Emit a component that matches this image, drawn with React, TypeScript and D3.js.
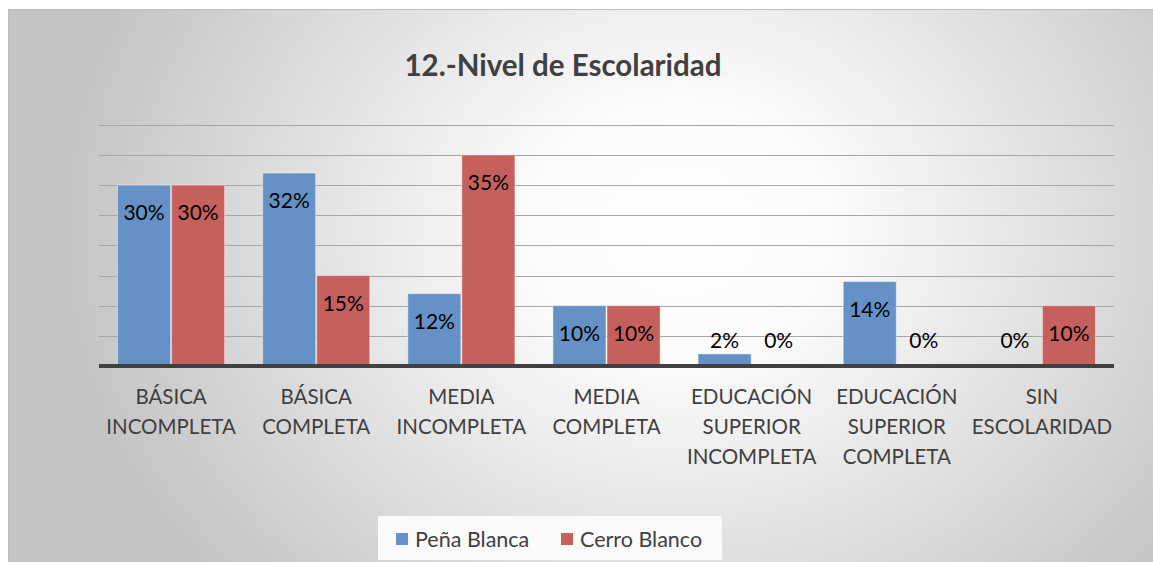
import React from "react";
import * as d3 from "d3";

const categories = [
  ["BÁSICA", "INCOMPLETA"],
  ["BÁSICA", "COMPLETA"],
  ["MEDIA", "INCOMPLETA"],
  ["MEDIA", "COMPLETA"],
  ["EDUCACIÓN", "SUPERIOR", "INCOMPLETA"],
  ["EDUCACIÓN", "SUPERIOR", "COMPLETA"],
  ["SIN", "ESCOLARIDAD"],
];
const penaBlanca = [30, 32, 12, 10, 2, 14, 0];
const cerroBlanco = [30, 15, 35, 10, 0, 0, 10];
const seriesNames = ["Peña Blanca", "Cerro Blanco"];
const gridTicks = [0, 5, 10, 15, 20, 25, 30, 35, 40];
const title = "12.-Nivel de Escolaridad";

const W = 1153;
const H = 562;
const FONT = "Lato, 'Open Sans', sans-serif";
const colors = ["#6591c7", "#c6605d"];

export default function App() {
  const left = 99, right = 1114, baseline = 366;
  const x = d3.scaleBand<number>().domain(d3.range(categories.length)).range([left, right]).paddingInner(0.255).paddingOuter(0.124);
  const x1 = d3.scaleBand<number>().domain([0, 1]).range([0, x.bandwidth()]).padding(0);
  const y = d3.scaleLinear().domain([0, 40]).range([baseline, baseline - 241.2]);
  const series = [penaBlanca, cerroBlanco];

  return (
    <svg width={W} height={H} style={{ position: "absolute", left: 0, top: 0 }} fontFamily={FONT}>
      <defs>
        <radialGradient id="bg" gradientUnits="userSpaceOnUse" cx={680} cy={230} r={620}
          gradientTransform="translate(680,230) scale(1,0.85) translate(-680,-230)">
          <stop offset="0" stopColor="#ffffff" />
          <stop offset="0.25" stopColor="#fbfbfb" />
          <stop offset="1" stopColor="#c4c4c4" />
        </radialGradient>
      </defs>
      <rect x={0} y={0} width={W} height={H} fill="#ffffff" />
      <rect x={8} y={9} width={W - 8} height={H - 9} fill="url(#bg)" />
      <line x1={8} x2={W} y1={9.5} y2={9.5} stroke="#bdbdbd" />
      <line x1={8.5} x2={8.5} y1={9} y2={H} stroke="#bdbdbd" />
      <text x={563} y={76} textAnchor="middle" fontSize={29.5} fontWeight="bold" fill="#404040">{title}</text>
      {gridTicks.filter(t => t > 0).map(t => (
        <line key={t} x1={left} x2={right} y1={Math.round(y(t)) + 0.5} y2={Math.round(y(t)) + 0.5} stroke="#a6a6a6" strokeWidth={1} />
      ))}
      {series.map((vals, si) => vals.map((v, i) => {
        const bx = (x(i) as number) + (x1(si) as number);
        const bw = x1.bandwidth();
        const top = y(v);
        return v > 0 ? (
          <rect key={`b${si}-${i}`} x={bx + 0.5} y={top} width={bw - 1} height={baseline - top} fill={colors[si]} stroke="rgba(255,255,255,0.45)" strokeWidth={1} />
        ) : null;
      }))}
      <line x1={left} x2={right} y1={baseline} y2={baseline} stroke="#404040" strokeWidth={4} />
      {series.map((vals, si) => vals.map((v, i) => {
        const cx = (x(i) as number) + (x1(si) as number) + x1.bandwidth() / 2;
        const cy = Math.min(y(v) + 28, baseline - 25);
        return (
          <text key={`l${si}-${i}`} x={cx} y={cy} dy="0.35em" textAnchor="middle" fontSize={21} fill="#000">{v}%</text>
        );
      }))}
      {categories.map((lines, i) => (
        <text key={`c${i}`} x={(x(i) as number) + x.bandwidth() / 2} textAnchor="middle" fontSize={20.5} fill="#404040">
          {lines.map((ln, j) => (
            <tspan key={j} x={(x(i) as number) + x.bandwidth() / 2} y={397 + j * 30} dy="0.35em">{ln}</tspan>
          ))}
        </text>
      ))}
      <rect x={378} y={516} width={344} height={44} fill="#fafafa" />
      {seriesNames.map((n, si) => {
        const lx = [396, 561][si];
        return (
          <g key={n}>
            <rect x={lx} y={533} width={12} height={12} fill={colors[si]} />
            <text x={lx + 19} y={539} dy="0.35em" fontSize={21.5} fill="#404040">{n}</text>
          </g>
        );
      })}
    </svg>
  );
}
